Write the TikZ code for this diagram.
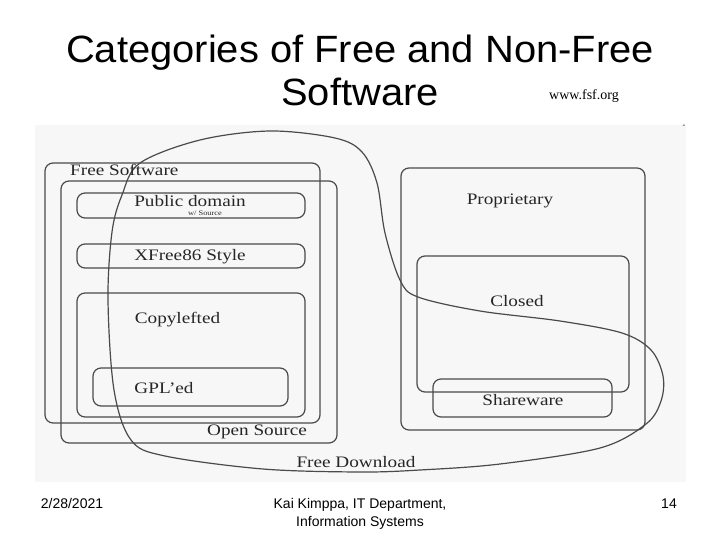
\documentclass[tikz,border=0pt]{standalone}
\usepackage{fontspec}
\usepackage{tikz}
\usepackage{xcolor}
\setmainfont{Liberation Serif}
\setsansfont{Liberation Sans}
\newfontfamily\scanfont[FakeStretch=1.2]{Liberation Serif}
\newfontfamily\titlefont[FakeStretch=1.05]{Liberation Sans}
\usetikzlibrary{positioning}
\definecolor{scanline}{HTML}{4A4A4A}
\definecolor{scanpaper}{HTML}{F7F7F7}

\begin{document}
\begin{tikzpicture}[x=1pt,y=-1pt,
  catbox/.style={draw=scanline,line width=1.2pt,rounded corners=8pt,inner sep=0pt},
  cattext/.style={font=\scanfont\fontsize{16}{16}\selectfont,text=black!85,inner sep=0pt},
  foot/.style={font=\sffamily\fontsize{14}{18}\selectfont,inner sep=0pt,anchor=base}]
\useasboundingbox (0,0) rectangle (720,540);

% Title
\node[font=\titlefont\fontsize{38}{38}\selectfont,anchor=base] (title1) at (360,63) {Categories of Free and Non-Free};
\node[font=\titlefont\fontsize{38}{38}\selectfont,anchor=base] (title2) at (360,106) {Software};
\node[font=\fontsize{14}{14}\selectfont,anchor=base west,inner sep=0pt] (src) at (549,100) {www.fsf.org};

% Scanned figure
\fill[scanpaper] (35,125) rectangle (686,482);
\node[font=\fontsize{8}{8}\selectfont,inner sep=0pt] (dash) at (684,126) {-};

% Free side
\node[catbox,minimum width=275,minimum height=260] (free) at (182.5,293) {};
\node[catbox,minimum width=276,minimum height=262] (open) at (199,312) {};
\node[catbox,minimum width=228,minimum height=25] (pubdom) at (191,205.5) {};
\node[catbox,minimum width=228,minimum height=24] (xfree) at (191,256) {};
\node[catbox,minimum width=228,minimum height=124] (copyleft) at (191,355) {};
\node[catbox,minimum width=195,minimum height=38] (gpl) at (190.5,387) {};

% Non-free side
\node[catbox,minimum width=244,minimum height=262] (propr) at (523,299) {};
\node[catbox,minimum width=212,minimum height=136] (closed) at (523,324) {};
\node[catbox,minimum width=179,minimum height=38] (share) at (522.5,398) {};

% Free download
\draw[scanline,line width=1.2pt] plot[smooth cycle,tension=0.55] coordinates {
  (140,163) (200,140) (270,131) (335,138) (362,152) (377,183) (385,233)
  (400,280) (418,297) (480,311) (560,321) (622,333) (651,350)
  (663,376) (661,401) (646,424) (600,448) (500,464) (420,470) (360,472)
  (263,469) (165,456) (131,440) (114,390) (108,300) (112,232) (122,195)};

% Labels
\node[cattext,anchor=west] (freelbl) at (70,170) {Free Software};
\node[cattext] (publbl) at (190,201) {Public domain};
\node[cattext,font=\scanfont\fontsize{7}{7}\selectfont] (srclbl) at (205,213.5) {w/ Source};
\node[cattext] (xfreelbl) at (190,257) {XFree86 Style};
\node[cattext] (copylbl) at (177.5,320) {Copylefted};
\node[cattext] (gpllbl) at (164,388) {GPL’ed};
\node[cattext] (openlbl) at (257,432) {Open Source};
\node[cattext] (proprlbl) at (510,201) {Proprietary};
\node[cattext] (closedlbl) at (517,301) {Closed};
\node[cattext] (sharelbl) at (523,400) {Shareware};
\node[cattext] (dllbl) at (356,462) {Free Download};

% Footer
\node[foot] (date) at (72,508) {2/28/2021};
\node[foot] (author) at (360,508) {Kai Kimppa, IT Department,};
\node[foot] (dept) at (360,526) {Information Systems};
\node[foot] (page) at (669,508) {14};
\end{tikzpicture}
\end{document}
